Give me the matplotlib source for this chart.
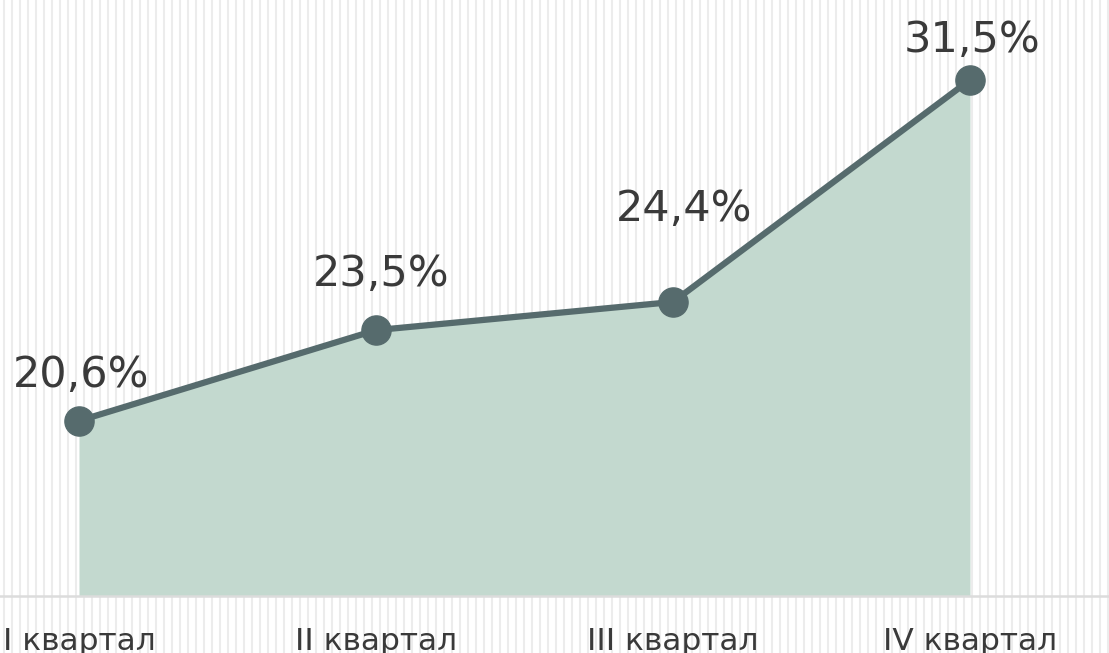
import matplotlib

matplotlib.use("Agg")
import matplotlib.pyplot as plt

# data
quarters = ["I квартал", "II квартал", "III квартал", "IV квартал"]
values = [20.6, 23.5, 24.4, 31.5]
value_labels = ["20,6%", "23,5%", "24,4%", "31,5%"]

# label offsets from each point, in pixels (dx, baseline above point)
label_offsets = [(2, 34), (5, 44), (11, 81), (2, 28)]

LINE = "#566b6d"
FILL = "#c3d9cf"
TEXT = "#3a3a3a"
PX = 72 / 100  # pixels -> points

plt.rcParams["font.family"] = ["DejaVu Sans"]

W, H = 1109, 653
fig = plt.figure(figsize=(W / 100, H / 100), dpi=100)
fig.patch.set_facecolor("white")

# background stripes over the whole canvas
bg = fig.add_axes([0, 0, 1, 1], zorder=0)
bg.set_xlim(0, W)
bg.set_ylim(0, H)
bg.axis("off")
for x in range(4, W, 8):
    bg.axvline(x, color="#ececec", lw=1.5)

ax = fig.add_axes([0, 57 / H, 1, 1 - 57 / H], zorder=1)
ax.patch.set_alpha(0)
xs = list(range(len(values)))
ax.set_xlim(-79 / 297, 3 + 139 / 297)
ax.set_ylim(15, 15 + (H - 57) / 31.28)

ax.fill_between(xs, 15, values, color=FILL, lw=0, zorder=1)
ax.axhline(15, color="#dcdcdc", lw=1.8, zorder=2, clip_on=False)
ax.plot(xs, values, color=LINE, lw=4.5, marker="o", ms=21,
        mfc=LINE, mec=LINE, zorder=3, clip_on=False)

for x, v, lab, (dx, dy) in zip(xs, values, value_labels, label_offsets):
    ax.annotate(lab, (x, v), xytext=(dx * PX, dy * PX), textcoords="offset points",
                ha="center", va="baseline", fontsize=31, color=TEXT)

for x, q in zip(xs, quarters):
    ax.annotate(q, (x, 0), xycoords=("data", "axes fraction"),
                xytext=(0, -54 * PX), textcoords="offset points",
                ha="center", va="baseline", fontsize=22.5, color=TEXT,
                annotation_clip=False)

ax.set_xticks([])
ax.set_yticks([])
for s in ax.spines.values():
    s.set_visible(False)

fig.savefig("out.png", dpi=100)
